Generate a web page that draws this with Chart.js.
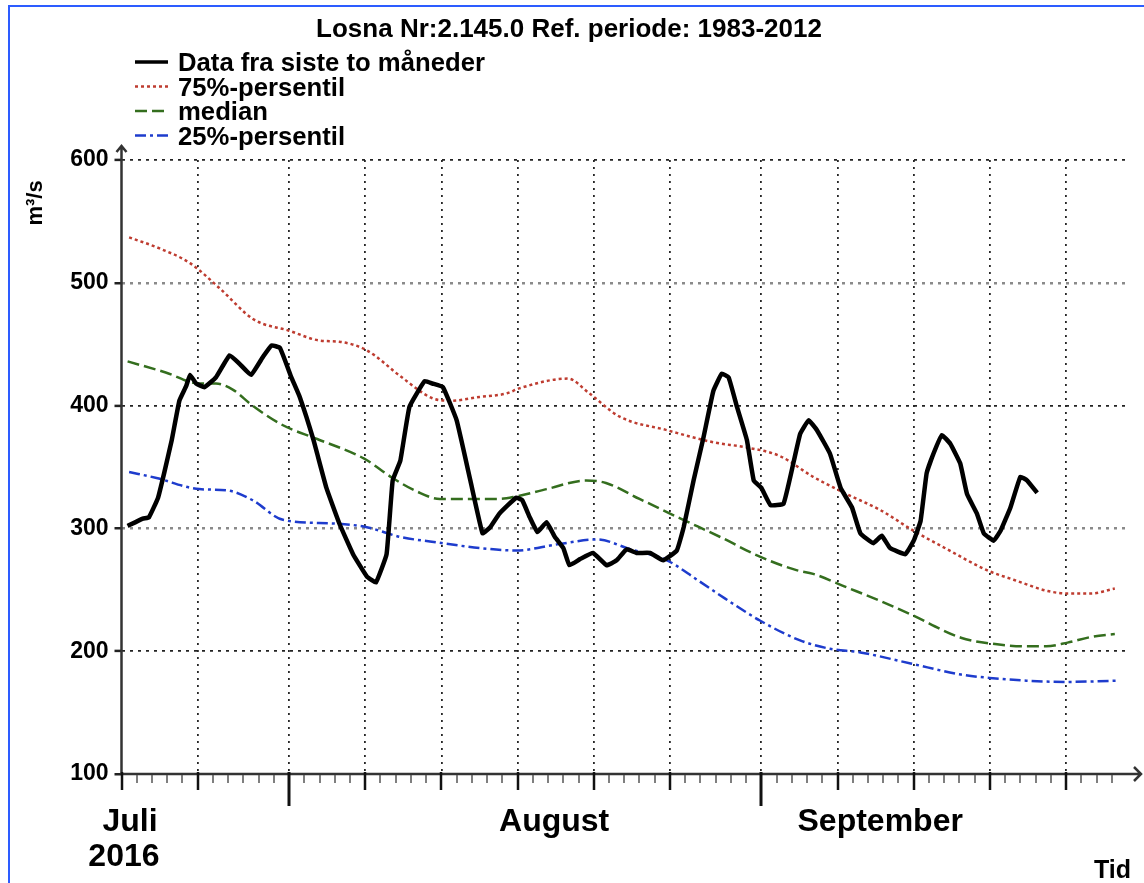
<!DOCTYPE html>
<html>
<head>
<meta charset="utf-8">
<title>Losna 2.145.0</title>
<script src="https://cdn.jsdelivr.net/npm/chart.js@4.4.1/dist/chart.umd.min.js"></script>
<style>
  html, body { margin: 0; padding: 0; background: #fff; overflow: hidden; }
  #wrap { position: relative; width: 1144px; height: 883px; overflow: hidden; }
  #frame { position: absolute; left: 8px; top: 5px; width: 1200px; height: 950px;
           border-left: 2px solid #2d5cff; border-top: 2px solid #2d5cff; pointer-events: none; }
</style>
</head>
<body>
<div id="wrap">
  <canvas id="losna" width="1144" height="883"></canvas>
  <div id="frame"></div>
</div>
<script>
// x = days counted from 21. juli 2016
const dataDays = [0.4, 1.4, 1.8, 2.4, 2.8, 3.3, 3.8, 4.25, 4.5, 4.9,
  5.45, 6.2, 7.1, 7.75, 8.5, 9.3, 9.85, 10.4, 11.15, 11.7,
  12.6, 13.45, 14.3, 15.2, 16.1, 16.7, 17.4, 17.8, 18.3, 18.9,
  19.9, 20.4, 21.1, 22.0, 22.9, 23.7, 24.2, 24.8, 25.9, 26.3,
  26.8, 27.3, 27.9, 28.45, 29.0, 29.4, 30.1, 30.95, 31.85, 32.5,
  33.15, 33.8, 34.7, 35.55, 36.45, 36.9, 37.55, 38.2, 38.85, 39.4,
  39.85, 40.4, 41.05, 41.5, 42.0, 42.6, 43.45, 44.1, 44.55, 45.1,
  45.65, 46.5, 47.2, 47.95, 48.5, 49.35, 49.9, 50.45, 51.45, 52.0,
  52.45, 52.85, 53.3, 53.85, 54.4, 55.05, 55.5, 56.15, 56.6, 57.25,
  57.7, 58.35, 59.0, 59.45, 60.1];
const dataValues = [302, 308, 309, 325, 345, 372, 404, 416, 425, 418,
  415, 423, 441, 434, 425, 440, 449, 447, 423, 407,
  372, 333, 304, 279, 261, 256, 279, 339, 355, 399,
  420, 418, 415, 388, 339, 296, 301, 312, 325, 323,
  309, 297, 305, 293, 284, 270, 275, 280, 270, 274,
  283, 280, 280, 274, 282, 301, 339, 374, 412, 426,
  423, 399, 372, 339, 333, 319, 320, 353, 377, 388,
  380, 361, 333, 317, 296, 288, 294, 284, 279, 290,
  306, 345, 361, 376, 369, 353, 328, 312, 296, 290,
  298, 317, 342, 339, 329];

const p75Days = [0.5, 2.5, 4.5, 6.4, 8.7, 11.0, 13.0, 14.3, 16.1, 18.4, 20.4, 21.6, 23.5, 25.3, 26.1, 29.3, 30.7,
  32.7, 35.8, 38.9, 41.0, 43.2, 45.4, 47.6, 49.8, 52.0, 54.2, 56.8, 58.6, 60.8, 62.1, 63.6, 65.2];
const p75Values = [537, 528, 516, 496, 470, 461, 453, 452, 445, 423, 406, 404, 407, 410, 414, 422, 410,
  391, 380, 370, 366, 359, 342, 328, 315, 298, 283, 266, 258, 249, 247, 247, 251];

const medianDays = [0.4, 2.9, 5.1, 6.2, 7.3, 8.6, 10.6, 12.8, 15.9, 17.8, 19.4, 20.9, 24.8, 25.9, 27.9, 30.5, 31.8,
  34.0, 36.7, 39.3, 41.9, 44.3, 45.4, 47.6, 49.4, 51.8, 55.1, 57.2, 59.4, 60.7, 62.1, 63.8, 65.2];
const medianValues = [436, 427, 418, 418, 413, 400, 384, 373, 357, 341, 330, 324, 324, 326, 332, 339, 337,
  324, 308, 293, 277, 266, 263, 252, 243, 230, 211, 206, 204, 204, 207, 212, 214];

const p25Days = [0.5, 2.3, 5.1, 6.9, 8.6, 10.6, 13.9, 16.1, 18.3, 20.5, 23.5, 25.9, 28.6, 31.2,
  33.4, 35.8, 37.8, 39.6, 41.9, 44.5, 46.5, 48.5, 51.8, 55.1, 57.2, 59.4, 62.1, 65.4];
const p25Values = [346, 341, 332, 331, 323, 307, 304, 301, 293, 289, 284, 282, 287, 291,
  283, 274, 258, 243, 225, 209, 202, 199, 190, 181, 178, 176, 175, 176];

// ticks: 21, 26 juli, 1, 6, 11 ... august, 1, 6 ... september
const tickDays = [0, 5, 11, 16, 21, 26, 31, 36, 42, 47, 52, 57, 62];
const monthStartDays = [11, 42];
const monthLabels = ['Juli', 'August', 'September'];
const yearLabel = '2016';
const titleText = 'Losna Nr:2.145.0 Ref. periode: 1983-2012';

const FONT = "'Liberation Sans', Arial, sans-serif";
Chart.defaults.font.family = FONT;

function pts(days, vals) {
  return days.map((d, i) => ({ x: d, y: vals[i] }));
}

// legend, title, axis lines, arrows, day ticks and month labels
const nvePlugin = {
  id: 'nvePlugin',
  afterDraw(chart) {
    const { ctx, chartArea: a, scales: { x } } = chart;
    ctx.save();

    // axes
    ctx.strokeStyle = '#333';
    ctx.lineWidth = 2.5;
    ctx.beginPath();
    ctx.moveTo(a.left, a.bottom);
    ctx.lineTo(a.left, a.top - 14);
    ctx.moveTo(a.left - 5, a.top - 8);
    ctx.lineTo(a.left, a.top - 14);
    ctx.lineTo(a.left + 5, a.top - 8);
    ctx.moveTo(a.left, a.bottom);
    ctx.lineTo(a.right + 14, a.bottom);
    ctx.moveTo(a.right + 7, a.bottom - 7);
    ctx.lineTo(a.right + 14, a.bottom);
    ctx.lineTo(a.right + 7, a.bottom + 7);
    ctx.stroke();

    for (let d = 0; d <= 65; d++) {
      const px = Math.round(x.getPixelForValue(d));
      let top = a.bottom + 1, len = 9, w = 1.5, col = '#555';
      if (tickDays.includes(d)) { top = a.bottom - 2; len = 16; w = 2.5; col = '#111'; }
      if (monthStartDays.includes(d)) { len = 32; w = 3; }
      ctx.strokeStyle = col;
      ctx.lineWidth = w;
      ctx.beginPath();
      ctx.moveTo(px, top);
      ctx.lineTo(px, a.bottom + len);
      ctx.stroke();
    }

    // text
    ctx.fillStyle = '#000';
    ctx.textBaseline = 'alphabetic';
    ctx.font = 'bold 26px ' + FONT;
    ctx.textAlign = 'center';
    ctx.fillText(titleText, 569, 37);

    ctx.font = 'bold 32px ' + FONT;
    ctx.fillText(monthLabels[0], x.getPixelForValue(0.56), 831);
    ctx.fillText(yearLabel, x.getPixelForValue(0.16), 866);
    ctx.fillText(monthLabels[1], x.getPixelForValue(28.4), 831);
    ctx.fillText(monthLabels[2], x.getPixelForValue(49.8), 831);

    ctx.font = 'bold 25px ' + FONT;
    ctx.textAlign = 'right';
    ctx.fillText('Tid', 1131, 878);

    ctx.save();
    ctx.translate(42, 203);
    ctx.rotate(-Math.PI / 2);
    ctx.textAlign = 'center';
    ctx.font = 'bold 22px ' + FONT;
    ctx.fillText('m³/s', 0, 0);
    ctx.restore();

    // legend
    ctx.textAlign = 'left';
    ctx.font = 'bold 25.7px ' + FONT;
    chart.data.datasets.forEach((ds, i) => {
      const base = 71 + i * 24.5;
      ctx.strokeStyle = ds.borderColor;
      ctx.lineWidth = Math.min(ds.borderWidth, 3.5);
      ctx.setLineDash(ds.borderDash || []);
      ctx.beginPath();
      ctx.moveTo(135, base - 9);
      ctx.lineTo(168, base - 9);
      ctx.stroke();
      ctx.setLineDash([]);
      ctx.fillText(ds.label, 178, base);
    });

    ctx.restore();
  }
};

const losnaChart = new Chart(document.getElementById('losna'), {
  type: 'line',
  data: {
    datasets: [
      {
        label: 'Data fra siste to måneder',
        data: pts(dataDays, dataValues),
        borderColor: '#000',
        borderWidth: 4.5,
        borderJoinStyle: 'round',
        tension: 0.1
      },
      {
        label: '75%-persentil',
        data: pts(p75Days, p75Values),
        borderColor: 'rgb(190, 60, 48)',
        borderWidth: 2.5,
        borderDash: [3, 3],
        cubicInterpolationMode: 'monotone'
      },
      {
        label: 'median',
        data: pts(medianDays, medianValues),
        borderColor: 'rgb(52, 110, 30)',
        borderWidth: 2.5,
        borderDash: [12, 5],
        cubicInterpolationMode: 'monotone'
      },
      {
        label: '25%-persentil',
        data: pts(p25Days, p25Values),
        borderColor: 'rgb(30, 60, 205)',
        borderWidth: 2.5,
        borderDash: [11, 4, 3, 4],
        cubicInterpolationMode: 'monotone'
      }
    ]
  },
  options: {
    responsive: false,
    animation: false,
    devicePixelRatio: 1,
    layout: { padding: { top: 160, right: 17, left: 0, bottom: 0 } },
    elements: { point: { radius: 0 } },
    plugins: {
      legend: { display: false },
      title: { display: false },
      tooltip: { enabled: false }
    },
    scales: {
      x: {
        type: 'linear',
        min: 0,
        max: 66,
        afterBuildTicks: s => { s.ticks = tickDays.map(v => ({ value: v })); },
        afterFit: s => { s.height = 109; },
        ticks: { display: false },
        grid: {
          drawTicks: false,
          color: c => (c.tick && c.tick.value === 0) ? 'rgba(0,0,0,0)' : 'rgba(0,0,0,0.85)',
          lineWidth: 1.8
        },
        border: { display: false, dash: [2, 5] }
      },
      y: {
        min: 100,
        max: 600,
        afterFit: s => { s.width = 121.5; },
        ticks: {
          stepSize: 100,
          color: '#000',
          padding: 6,
          font: { family: FONT, size: 23, weight: 'bold' }
        },
        grid: {
          color: c => {
            if (!c.tick || c.tick.value === 100) return 'rgba(0,0,0,0)';
            return c.tick.value % 200 === 0 ? '#222' : '#8a8a8a';
          },
          lineWidth: c => (c.tick && c.tick.value % 200 !== 0) ? 2.5 : 1.8,
          tickLength: 7,
          tickColor: '#222',
          tickWidth: 2.5
        },
        border: { display: false, dash: [3, 5] }
      }
    }
  },
  plugins: [nvePlugin]
});
</script>
</body>
</html>
